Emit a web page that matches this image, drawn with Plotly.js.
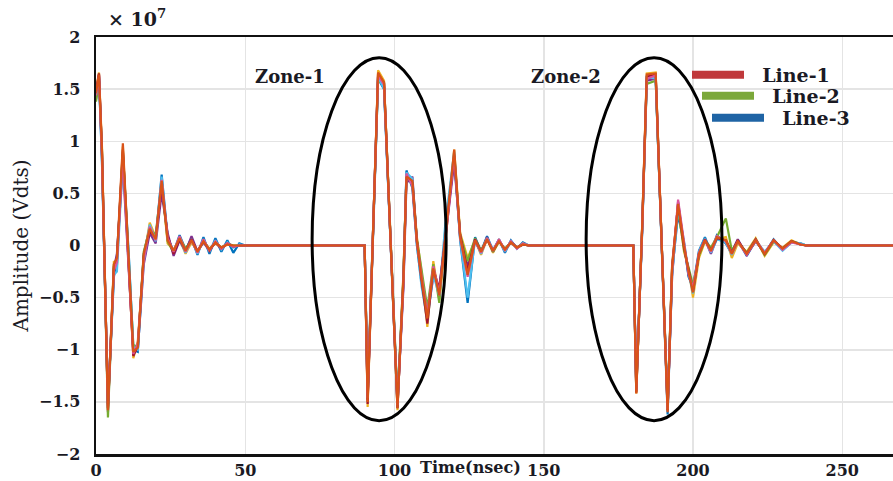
<!DOCTYPE html>
<html>
<head>
<meta charset="utf-8">
<script src="https://cdn.plot.ly/plotly-3.0.1.min.js"></script>
<style>html,body{margin:0;padding:0;background:#fff;}#chart{width:893px;height:481px;}</style>
</head>
<body>
<div id="chart"></div>
<script>
// Time axis (nsec)
const time = [0,1,2,4,6,7,9,11,12.5,14,16,18,20,22,24,26,28,30,32,34,36,38,40,42,44,46,48,50,
  90,91,93,94.5,96.5,98.5,101,103,104,106,107.5,109,111,113,115,117,120,122,124.5,127,129,131,133,135,137,139,141,143,145,
  180,181,183,184.5,187.5,189.5,191.5,193,195,197,198.5,200,202,204,206,208,211,213,215,218,221,224,227,230,233,236,238,267];

// Amplitudes (x 10^7 V) for each recorded trace
const ampBlue = [1.40,1.62,0.80,-1.52,-0.30,-0.12,0.88,-0.10,-1.00,-1.02,-0.08,0.18,0.06,0.68,0.08,-0.06,0.10,-0.04,0.07,-0.09,0.08,-0.08,0.07,-0.06,0.05,-0.07,0.02,0,
  0,-1.45,0.25,1.60,1.50,0.15,-1.50,-0.35,0.72,0.55,0.00,-0.35,-0.62,-0.25,-0.45,0.10,0.85,0.05,-0.55,0.08,-0.06,0.09,-0.05,0.06,-0.07,0.05,-0.03,0.03,0,
  0,-1.38,0.15,1.60,1.62,0.08,-1.62,-0.25,0.30,0.02,-0.30,-0.40,-0.05,0.08,-0.06,0.10,0.02,-0.08,0.05,-0.10,0.05,-0.08,0.06,-0.04,0.03,0.02,0,0];
const ampYellow = [1.50,1.66,0.95,-1.58,-0.15,-0.18,0.95,-0.25,-1.08,-0.92,-0.12,0.22,0.08,0.60,0.02,-0.04,0.06,-0.08,0.03,-0.05,0.04,-0.03,0.02,-0.02,0.01,0,0,0,
  0,-1.55,0.35,1.68,1.58,0.25,-1.58,-0.25,0.65,0.62,0.08,-0.25,-0.78,-0.15,-0.52,0.02,0.92,0.12,-0.12,0.05,-0.09,0.06,-0.07,0.04,-0.04,0.03,-0.02,0.02,0,
  0,-1.42,0.22,1.65,1.66,0.12,-1.58,-0.18,0.38,-0.06,-0.22,-0.50,-0.12,0.04,-0.04,0.06,0.08,-0.12,0.02,-0.06,0.07,-0.10,0.03,-0.02,0.05,0.01,0,0];
const ampPurple = [1.42,1.64,0.88,-1.60,-0.22,-0.08,0.78,-0.30,-1.02,-1.00,-0.18,0.12,0.02,0.50,0.12,-0.10,0.05,-0.06,0.09,-0.06,0.03,-0.05,0.04,-0.03,0.02,-0.01,0,0,
  0,-1.48,0.28,1.62,1.52,0.18,-1.52,-0.40,0.60,0.66,0.04,-0.30,-0.68,-0.30,-0.40,0.06,0.80,0.08,-0.20,0.04,-0.07,0.08,-0.06,0.05,-0.05,0.04,-0.02,0.01,0,
  0,-1.35,0.18,1.58,1.60,0.05,-1.55,-0.30,0.42,0.00,-0.28,-0.42,-0.08,0.06,-0.08,0.07,0.04,-0.06,0.06,-0.09,0.04,-0.07,0.05,-0.03,0.04,0.01,0,0];
const ampGreen = [1.38,1.58,0.92,-1.65,-0.18,-0.20,0.90,-0.18,-0.95,-0.98,-0.06,0.16,0.10,0.62,0.04,-0.07,0.08,-0.03,0.05,-0.07,0.05,-0.04,0.03,-0.02,0.02,0,0,0,
  0,-1.40,0.22,1.58,1.55,0.22,-1.48,-0.28,0.68,0.58,0.06,-0.22,-0.60,-0.18,-0.55,0.15,0.88,0.10,-0.15,0.07,-0.05,0.07,-0.06,0.04,-0.03,0.03,-0.02,0.01,0,
  0,-1.40,0.20,1.55,1.58,0.10,-1.52,-0.22,0.35,-0.04,-0.20,-0.38,-0.10,0.05,-0.02,0.08,0.26,-0.05,0.04,-0.07,0.06,-0.09,0.04,-0.03,0.04,0.02,0,0];
const ampCyan = [1.45,1.60,0.82,-1.50,-0.28,-0.25,0.82,-0.12,-0.98,-1.00,-0.15,0.20,0.04,0.66,0.06,-0.05,0.07,-0.07,0.06,-0.08,0.06,-0.06,0.05,-0.04,0.03,-0.02,0.01,0,
  0,-1.42,0.30,1.62,1.50,0.12,-1.55,-0.32,0.70,0.64,0.02,-0.38,-0.72,-0.28,-0.48,0.20,0.90,0.06,-0.50,0.06,-0.08,0.07,-0.04,0.05,-0.06,0.04,-0.03,0.02,0,
  0,-1.36,0.16,1.62,1.60,0.06,-1.56,-0.28,0.36,0.04,-0.26,-0.46,-0.06,0.07,-0.07,0.06,0.03,-0.09,0.04,-0.08,0.05,-0.06,0.04,-0.05,0.03,0.02,0,0];
const ampMaroon = [1.48,1.65,0.90,-1.56,-0.20,-0.14,0.92,-0.22,-1.06,-0.96,-0.10,0.14,0.07,0.58,0.09,-0.08,0.06,-0.05,0.06,-0.06,0.05,-0.05,0.03,-0.03,0.02,-0.01,0,0,
  0,-1.52,0.32,1.65,1.56,0.20,-1.56,-0.30,0.66,0.60,0.05,-0.32,-0.75,-0.22,-0.42,0.08,0.86,0.10,-0.25,0.06,-0.06,0.06,-0.05,0.05,-0.04,0.03,-0.02,0.01,0,
  0,-1.41,0.20,1.62,1.64,0.09,-1.58,-0.20,0.40,-0.02,-0.24,-0.44,-0.08,0.06,-0.05,0.07,0.05,-0.07,0.05,-0.08,0.06,-0.08,0.05,-0.03,0.04,0.01,0,0];
const ampPink = [1.44,1.63,0.86,-1.54,-0.24,-0.16,0.86,-0.20,-1.04,-0.94,-0.14,0.18,0.05,0.63,0.07,-0.06,0.09,-0.06,0.05,-0.07,0.06,-0.05,0.04,-0.03,0.02,-0.01,0,0,
  0,-1.46,0.26,1.63,1.54,0.16,-1.53,-0.36,0.69,0.57,0.03,-0.28,-0.66,-0.20,-0.46,0.04,0.87,0.07,-0.30,0.05,-0.07,0.07,-0.05,0.06,-0.05,0.04,-0.03,0.02,0,
  0,-1.39,0.18,1.60,1.63,0.07,-1.57,-0.24,0.44,0.03,-0.27,-0.41,-0.07,0.05,-0.06,0.09,0.04,-0.08,0.04,-0.09,0.05,-0.07,0.05,-0.04,0.03,0.01,0,0];
const ampOrange = [1.46,1.64,0.92,-1.58,-0.18,-0.12,0.98,-0.16,-1.02,-0.98,-0.08,0.16,0.06,0.62,0.05,-0.05,0.07,-0.05,0.05,-0.06,0.04,-0.04,0.03,-0.02,0.01,0,0,0,
  0,-1.50,0.30,1.66,1.56,0.22,-1.56,-0.32,0.66,0.62,0.04,-0.30,-0.70,-0.22,-0.48,0.06,0.92,0.08,-0.28,0.05,-0.06,0.06,-0.05,0.04,-0.04,0.03,-0.02,0.01,0,
  0,-1.42,0.20,1.64,1.65,0.10,-1.60,-0.22,0.40,0.00,-0.25,-0.45,-0.08,0.05,-0.05,0.08,0.05,-0.08,0.04,-0.08,0.05,-0.08,0.05,-0.03,0.04,0.01,0,0];

const traceSeries = [ampBlue, ampYellow, ampPurple, ampGreen, ampCyan, ampMaroon, ampPink, ampOrange];
const traceColors = ['#0072BD','#EDB120','#7E2F8E','#77AC30','#4DBEEE','#A2142F','#D9559E','#D95319'];

const legendNames = ['Line-1','Line-2','Line-3'];
const legendColors = ['#C0393B','#7BA83A','#1F64A5'];

const serif = '"DejaVu Serif", "Liberation Serif", serif';
const textCol = '#1a1a24';

const data = traceSeries.map((s, i) => ({
  type: 'scatter', mode: 'lines', x: time, y: s,
  line: {color: traceColors[i], width: 2.2},
  showlegend: false, hoverinfo: 'skip'
}));

const legendIds = ['legend','legend2','legend3'];
legendNames.forEach((n, i) => {
  data.push({type:'scatter', mode:'lines', x:[null], y:[null], name:'\u00a0\u00a0' + n,
    line:{color: legendColors[i], width: 8}, showlegend:true, legend: legendIds[i]});
});

function legendBox(xpx, ypx){
  return {x:(xpx-96)/797, y:(454-ypx)/417, xanchor:'left', yanchor:'middle',
    bgcolor:'rgba(0,0,0,0)', borderwidth:0, itemwidth:52,
    font:{family:serif, size:19, color:textCol, weight:'bold'}, tracegroupgap:0};
}

const layout = {
  width: 893, height: 481,
  margin: {l:96, r:0, t:37, b:27},
  paper_bgcolor:'#fff', plot_bgcolor:'#fff',
  showlegend: true,
  legend: legendBox(687, 75),
  legend2: legendBox(697, 96),
  legend3: legendBox(707, 118),
  xaxis: {
    range:[0, 267], dtick:50, tick0:0,
    showgrid:true, gridcolor:'#e4e4e4', gridwidth:1.5,
    zeroline:false, showline:true, linecolor:'#111', linewidth:2.5, mirror:true,
    ticks:'', tickfont:{family:serif, size:16, color:textCol, weight:'bold'}
  },
  yaxis: {
    range:[-2, 2], dtick:0.5, tick0:0,
    showgrid:true, gridcolor:'#e4e4e4', gridwidth:1.5,
    zeroline:false, showline:true, linecolor:'#111', linewidth:2.5,
    ticks:'', ticklabelstandoff:10,
    tickfont:{family:serif, size:16, color:textCol, weight:'bold'},
    title:{text:'Amplitude (Vdts)', font:{family:serif, size:20, color:textCol}, standoff:5}
  },
  annotations: [
    {xref:'paper', yref:'paper', x:(470-96)/797, y:(454-467)/417, text:'Time(nsec)', showarrow:false,
     xanchor:'center', yanchor:'middle', font:{family:serif, size:16, color:textCol, weight:'bold'}},
    {xref:'paper', yref:'paper', x:(106-96)/797, y:(454-18)/417, text:'<b>× 10<sup>7</sup></b>', showarrow:false,
     xanchor:'left', yanchor:'middle', font:{family:serif, size:19, color:textCol}},
    {xref:'x', yref:'y', x:65, y:1.62, text:'Zone-1', showarrow:false,
     font:{family:serif, size:18, color:textCol, weight:'bold'}},
    {xref:'x', yref:'y', x:157.5, y:1.62, text:'Zone-2', showarrow:false,
     font:{family:serif, size:18, color:textCol, weight:'bold'}}
  ],
  shapes: [
    {type:'circle', xref:'x', yref:'y', x0:72.4, x1:117.3, y0:-1.68, y1:1.80, line:{color:'#000', width:3}},
    {type:'circle', xref:'x', yref:'y', x0:164.2, x1:209.7, y0:-1.68, y1:1.80, line:{color:'#000', width:3}}
  ]
};

Plotly.newPlot('chart', data, layout, {displayModeBar:false, staticPlot:true});
</script>
</body>
</html>
